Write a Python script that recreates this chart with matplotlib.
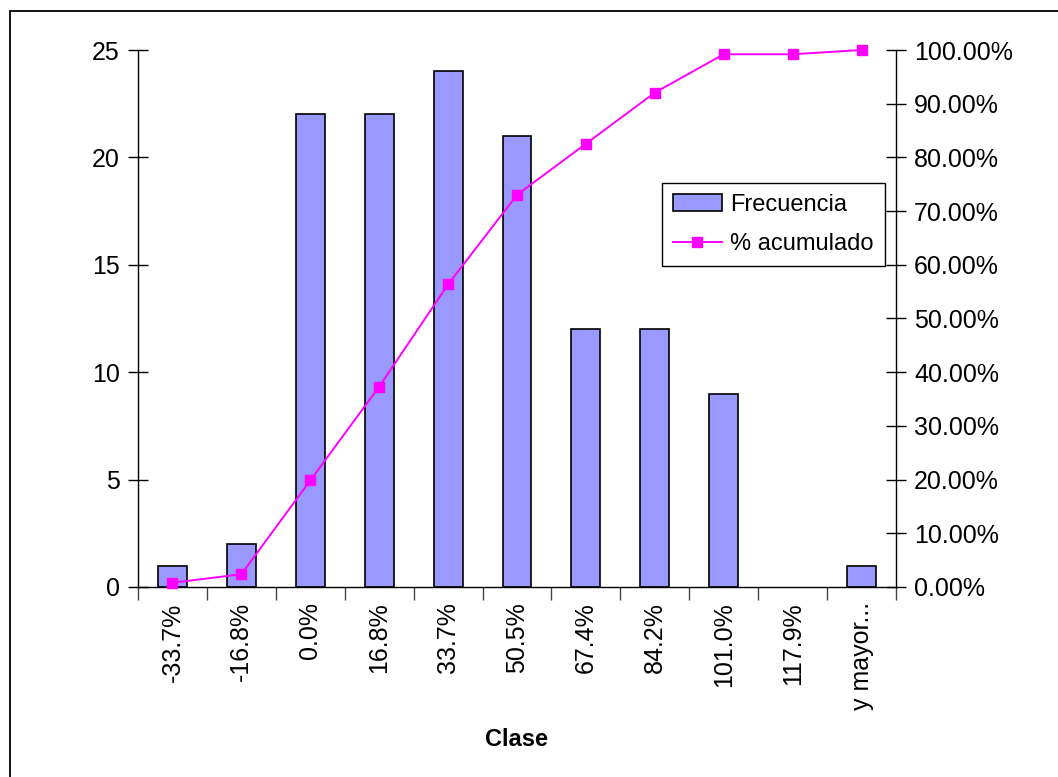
import matplotlib
matplotlib.use("Agg")
import matplotlib.pyplot as plt
from matplotlib.patches import Rectangle
from matplotlib.lines import Line2D
from matplotlib.ticker import FuncFormatter, MultipleLocator

plt.rcParams['font.family'] = ['Liberation Sans', 'DejaVu Sans']

categories = ["-33.7%", "-16.8%", "0.0%", "16.8%", "33.7%", "50.5%",
              "67.4%", "84.2%", "101.0%", "117.9%", "y mayor..."]
frecuencia = [1, 2, 22, 22, 24, 21, 12, 12, 9, 0, 1]
acumulado = [0.0079, 0.0238, 0.1984, 0.3730, 0.5635, 0.7302,
             0.8254, 0.9206, 0.9921, 0.9921, 1.0]

W, H = 1058, 777
fig = plt.figure(figsize=(W / 100, H / 100), dpi=100)
fig.patch.set_facecolor('white')

# outer chart border (left and top visible)
fig.add_artist(Rectangle((10 / W, -0.05), 1.2, (H - 11) / H + 0.05,
                         transform=fig.transFigure, fill=False,
                         edgecolor='black', linewidth=1.3))

left, right, top, bottom = 138, 896, 50, 587
ax = fig.add_axes([left / W, (H - bottom) / H, (right - left) / W, (bottom - top) / H])
ax2 = ax.twinx()

x = list(range(len(categories)))
bars = ax.bar(x, frecuencia, width=0.42, color='#9999FF', edgecolor='black',
              linewidth=1.2, zorder=2)
for b, v in zip(bars, frecuencia):
    if v == 0:
        b.set_linewidth(0)
ax.set_xlim(-0.5, len(categories) - 0.5)
ax.set_ylim(0, 25)
ax.yaxis.set_major_locator(MultipleLocator(5))

ax2.plot(x, acumulado, color='#FF00FF', linewidth=1.4, marker='s', markersize=7.5,
         markerfacecolor='#FF00FF', markeredgecolor='#FF00FF', clip_on=False)
ax2.set_ylim(0, 1)
ax2.yaxis.set_major_locator(MultipleLocator(0.1))
ax2.yaxis.set_major_formatter(FuncFormatter(lambda v, p: f"{v * 100:.2f}%"))

for a in (ax, ax2):
    a.spines['top'].set_visible(False)
    a.patch.set_visible(False)
ax.spines['right'].set_visible(False)
ax2.spines['left'].set_visible(False)
ax2.spines['bottom'].set_visible(False)
for s in ('left', 'bottom'):
    ax.spines[s].set_linewidth(1.0)
ax2.spines['right'].set_linewidth(1.0)

ax.tick_params(axis='y', direction='inout', length=14, width=1.0, labelsize=18, pad=6)
ax2.tick_params(axis='y', direction='inout', length=14, width=1.0, labelsize=18, pad=6)

# category labels centered, boundary ticks
ax.set_xticks(x)
ax.set_xticklabels(categories, rotation=90, fontsize=18)
ax.tick_params(axis='x', which='major', length=0, pad=11)
ax.set_xticks([i - 0.5 for i in range(len(categories) + 1)], minor=True)
ax.tick_params(axis='x', which='minor', direction='out', length=9, width=1.0, color='#444444')

ax.set_xlabel("Clase", fontsize=17, fontweight='bold', labelpad=13)

handles = [Rectangle((0, 0), 1, 1, facecolor='#9999FF', edgecolor='black', linewidth=1.2),
           Line2D([0], [0], color='#FF00FF', linewidth=1.4, marker='s', markersize=7.5)]
leg = ax2.legend(handles, ["Frecuencia", "% acumulado"], loc='upper left',
                 bbox_to_anchor=((662 - left) / (right - left), (bottom - 183) / (bottom - top)),
                 fontsize=17, frameon=True, fancybox=False, edgecolor='black',
                 framealpha=1, borderpad=0.45, handlelength=2.1, handletextpad=0.35,
                 labelspacing=0.75, borderaxespad=0)
leg.get_frame().set_linewidth(1.0)

fig.savefig("out.png", dpi=100, facecolor='white')
